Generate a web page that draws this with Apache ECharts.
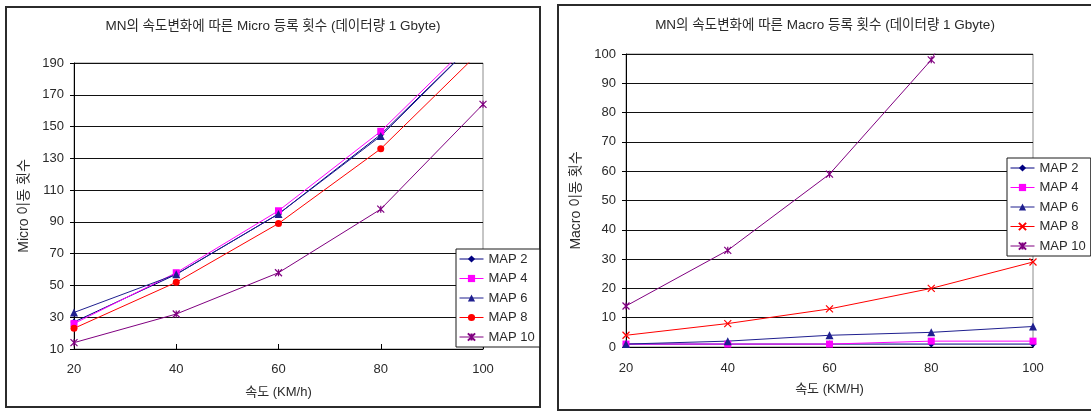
<!DOCTYPE html>
<html>
<head>
<meta charset="utf-8">
<script src="https://cdn.jsdelivr.net/npm/echarts@6/dist/echarts.min.js"></script>
<style>
  html, body { margin: 0; padding: 0; background: #fff; }
  #wrap { position: relative; width: 1091px; height: 412px; overflow: hidden; }
  #micro { position: absolute; left: 0; top: 0; width: 549px; height: 412px; }
  #macro { position: absolute; left: 549px; top: 0; width: 542px; height: 412px; }
</style>
</head>
<body>
<div id="wrap">
  <div id="micro"></div>
  <div id="macro"></div>
</div>
<script>
// Speed (km/h) on the x axis
const speeds = [20, 40, 60, 80, 100];
const seriesNames = ['MAP 2', 'MAP 4', 'MAP 6', 'MAP 8', 'MAP 10'];

// Micro registration counts per MAP size
const microMap2 = [27, 57, 95, 145, 208];
const microMap4 = [26, 58, 97, 147, 210];
const microMap6 = [33, 57, 95, 144, 208];
const microMap8 = [23, 52, 89, 136, 199];
const microMap10 = [14, 32, 58, 98, 164];

// Macro registration counts per MAP size
const macroMap2 = [1, 1, 1, 1, 1];
const macroMap4 = [1, 1, 1, 2, 2];
const macroMap6 = [1, 2, 4, 5, 7];
const macroMap8 = [4, 8, 13, 20, 29];
const macroMap10 = [14, 33, 59, 98, 160];

const microTitle = 'MN의 속도변화에 따른 Micro 등록 횟수 (데이터량 1 Gbyte)';
const macroTitle = 'MN의 속도변화에 따른 Macro 등록 횟수 (데이터량 1 Gbyte)';

const FONT = '"Liberation Sans", Arial, "Noto Sans CJK KR", sans-serif';
const TXT = '#2a2a2a';

const COLORS = ['#000080', '#ff00ff', '#1f1f8f', '#ff0000', '#800080'];
const X_PATH = 'path://M0,0L10,10M0,10L10,0';
const STAR_PATH = 'path://M0,0L10,10M0,10L10,0M5,0L5,10';

function pairs(vals) {
  return speeds.map((s, i) => [s, vals[i]]);
}

function makeSeries(valueSets, symbols) {
  return valueSets.map((vals, i) => {
    const sym = symbols[i];
    const stroked = sym.indexOf('path://') === 0;
    return {
      name: seriesNames[i],
      type: 'line',
      data: pairs(vals),
      symbol: sym,
      symbolSize: sym === 'triangle' ? 8 : 7,
      showSymbol: true,
      clip: true,
      lineStyle: { color: COLORS[i], width: 1 },
      itemStyle: stroked
        ? { color: COLORS[i], borderColor: COLORS[i], borderWidth: 1.2 }
        : { color: COLORS[i], borderWidth: 0 },
      emphasis: { disabled: true },
      animation: false
    };
  });
}

function buildOption(cfg) {
  return {
    animation: false,
    backgroundColor: '#fff',
    textStyle: { fontFamily: FONT },
    title: {
      text: cfg.title,
      left: cfg.titleX,
      textAlign: 'center',
      top: cfg.titleY,
      padding: 0,
      textStyle: { fontFamily: FONT, fontSize: 13.5, fontWeight: 'normal', color: TXT }
    },
    graphic: [{
      type: 'rect',
      z: -1,
      shape: cfg.frame,
      style: { fill: 'none', stroke: '#2b2b2b', lineWidth: 2 }
    }],
    grid: {
      left: cfg.grid.left, top: cfg.grid.top,
      width: cfg.grid.width, height: cfg.grid.height,
      show: true, borderColor: '#8c8c8c', borderWidth: 1, backgroundColor: 'transparent'
    },
    legend: {
      orient: 'vertical',
      left: cfg.legend.left,
      top: cfg.legend.top,
      data: seriesNames,
      itemWidth: 24,
      itemHeight: 9,
      itemGap: 5.5,
      padding: [3, 5, 3, 3],
      backgroundColor: '#fff',
      borderColor: '#1a1a1a',
      borderWidth: 1,
      selectedMode: false,
      lineStyle: { width: 1 },
      textStyle: { fontFamily: FONT, fontSize: 13, color: TXT, lineHeight: 14, padding: [0, 0, 0, 0] }
    },
    xAxis: {
      type: 'value',
      min: 20, max: 100, interval: 20,
      name: cfg.xName,
      nameLocation: 'middle',
      nameGap: cfg.xNameGap,
      nameTextStyle: { fontFamily: FONT, fontSize: 13, color: TXT },
      axisLine: { show: true, lineStyle: { color: '#000', width: 1 } },
      axisTick: { show: true, inside: true, length: 5, lineStyle: { color: '#000' } },
      axisLabel: { fontFamily: FONT, fontSize: 13, color: TXT, margin: cfg.xLabelMargin },
      splitLine: { show: false }
    },
    yAxis: {
      type: 'value',
      min: cfg.yMin, max: cfg.yMax, interval: cfg.yStep,
      name: cfg.yName,
      nameLocation: 'middle',
      nameGap: cfg.yNameGap,
      nameRotate: 90,
      nameTextStyle: { fontFamily: FONT, fontSize: 14, color: TXT },
      axisLine: { show: true, lineStyle: { color: '#000', width: 1 } },
      axisTick: { show: true, inside: false, length: 4, lineStyle: { color: '#000' } },
      axisLabel: { fontFamily: FONT, fontSize: 13, color: TXT, margin: 10 },
      splitLine: { show: true, lineStyle: { color: '#111', width: 1 } }
    },
    series: makeSeries(cfg.values, cfg.symbols)
  };
}

const microChart = echarts.init(document.getElementById('micro'), null, { renderer: 'canvas' });
microChart.setOption(buildOption({
  title: microTitle,
  titleX: 273, titleY: 20,
  frame: { x: 6, y: 7, width: 534, height: 400 },
  grid: { left: 74, top: 63, width: 409, height: 286 },
  legend: { left: 456, top: 249 },
  xName: '속도 (KM/h)', xNameGap: 37, xLabelMargin: 14,
  yName: 'Micro 이동 횟수', yNameGap: 40,
  yMin: 10, yMax: 190, yStep: 20,
  values: [microMap2, microMap4, microMap6, microMap8, microMap10],
  symbols: ['diamond', 'rect', 'triangle', 'circle', STAR_PATH]
}));

const macroChart = echarts.init(document.getElementById('macro'), null, { renderer: 'canvas' });
macroChart.setOption(buildOption({
  title: macroTitle,
  titleX: 276, titleY: 19,
  frame: { x: 9, y: 5, width: 600, height: 405 },
  grid: { left: 77, top: 54, width: 407, height: 293 },
  legend: { left: 458, top: 158 },
  xName: '속도 (KM/H)', xNameGap: 36, xLabelMargin: 15,
  yName: 'Macro 이동 횟수', yNameGap: 41,
  yMin: 0, yMax: 100, yStep: 10,
  values: [macroMap2, macroMap4, macroMap6, macroMap8, macroMap10],
  symbols: ['diamond', 'rect', 'triangle', X_PATH, STAR_PATH]
}));
</script>
</body>
</html>
